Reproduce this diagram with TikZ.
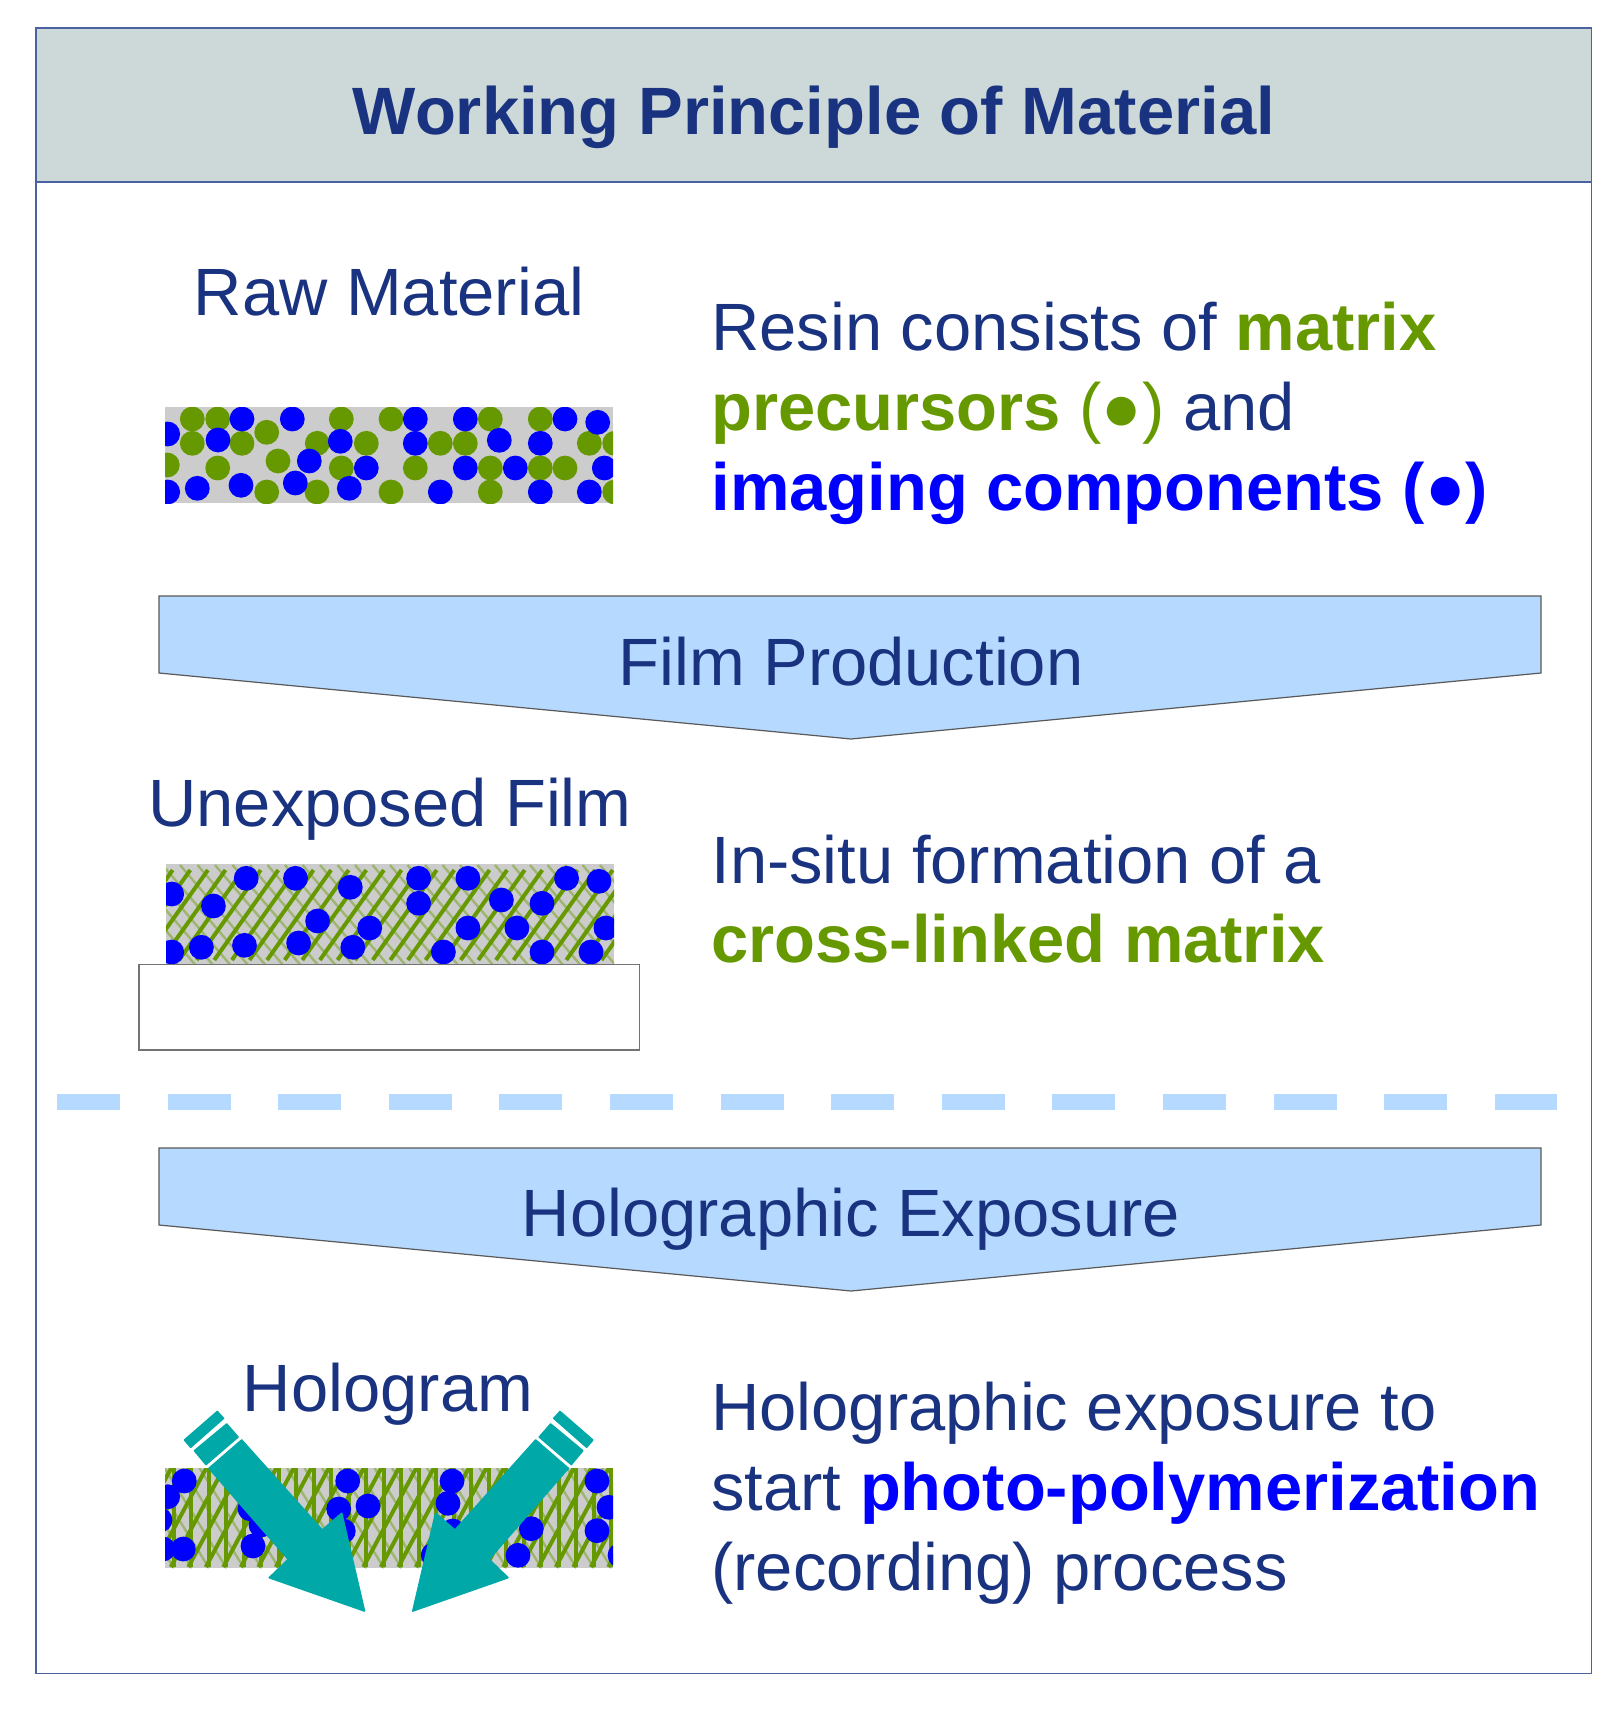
\documentclass[tikz,border=0pt]{standalone}
\usepackage{fontspec}
\setmainfont{Liberation Sans}
\definecolor{navytext}{HTML}{1A3380}
\definecolor{framecol}{HTML}{4A62A0}
\definecolor{headfill}{HTML}{CDD9D9}
\definecolor{arrowfill}{HTML}{B6DAFF}
\definecolor{oliveink}{HTML}{669900}
\definecolor{blueink}{HTML}{0000FF}
\definecolor{filmgray}{HTML}{CCCCCC}
\definecolor{beamteal}{HTML}{00A8A8}
\begin{document}
\begin{tikzpicture}[x=0.5pt, y=-0.5pt,
    bodytext/.style={font=\fontsize{33.45}{39.9}\selectfont, text=navytext, inner sep=0pt},
    paragraph/.style={bodytext, anchor=base west, align=left},
    label/.style={bodytext, anchor=base},
    flowarrow/.style={fill=arrowfill, draw=black!65, line width=0.6pt, line join=miter},
    greendot/.style={fill=oliveink},
    bluedot/.style={fill=blueink},
    thickhatch/.style={draw=oliveink, line width=2pt},
    thinhatch/.style={draw=oliveink!45!filmgray, line width=1.2pt},
    beam/.style={fill=beamteal, draw=beamteal, line width=0.8pt, line join=round}]

    \useasboundingbox (0,0) rectangle (1620,1712);

    % Frame and header
    \draw[framecol, line width=0.65pt, fill=white] (36,28) rectangle (1591.6,1673.6);
    \draw[framecol, line width=0.65pt, fill=headfill] (36,28) rectangle (1591.6,182);
    \node[bodytext, anchor=base, font=\fontsize{33.5}{40}\selectfont\bfseries] (title) at (814,134.5) {Working Principle of Material};

    % Raw material
    \node[label] (rawlabel) at (389,315) {Raw Material};
    \fill[filmgray] (165,407) rectangle (613,503);
    \begin{scope}
      \clip (165,407) rectangle (613,503);
      \foreach \x/\y in {192.3/419, 217.7/419, 266.7/432.3, 341.3/419, 391/419, 490.3/419, 540.3/419,
                         192.3/443.3, 242/443.3, 317.3/443.3, 366.3/443.3, 440.3/443.3, 465.3/443.3, 589.3/443.3, 614.7/443.3,
                         167.3/465, 217.7/468, 278/461, 341.3/468, 415.3/468, 490.3/468, 540.3/468, 565/468,
                         266.7/492, 317/492, 391/492, 490.3/492, 614.7/492}
        \fill[greendot] (\x,\y) circle (6.2pt);
      \foreach \x/\y in {242/419, 292.3/419, 415.3/419, 465.3/419, 565/419, 597.7/422.3,
                         167.7/434, 218/440, 340.3/441.3, 415.3/443.3, 499.3/440.3, 540.3/443.3,
                         309.3/461, 366.3/468, 465.3/468, 515.3/468, 604.3/468,
                         167.7/492, 197.3/488.3, 241/485.3, 295.3/483, 349.3/488.3, 440.3/492, 540.3/492, 589.3/492}
        \fill[bluedot] (\x,\y) circle (6.2pt);
    \end{scope}
    \node[paragraph] (rawtext) at (711,510) {Resin consists of \textcolor{oliveink}{\textbf{matrix}}\\
      \textcolor{oliveink}{\textbf{precursors} (●)} and\\
      \textcolor{blueink}{\textbf{imaging components (●)}}};

    % Film production
    \draw[flowarrow] (159,596) -- (1541,596) -- (1541,673) -- (851,739) -- (159,673) -- cycle;
    \node[label] (filmstep) at (851,685) {Film Production};

    % Unexposed film
    \node[label] (filmlabel) at (390,826) {Unexposed Film};
    \fill[filmgray] (166,863.5) rectangle (614,964.5);
    \begin{scope}
      \clip (166,863.5) rectangle (614,964.5);
      \foreach \i in {-8,...,30}
        \draw[thinhatch] ({180+\i*17.5},865) -- ++(88,103);
      \foreach \i in {-5,...,24}
        \draw[thickhatch] ({196.7+\i*17.6},960) -- ++(64,-90);
      \foreach \x/\y in {171.7/894, 213.4/906, 246.2/878.3, 295.5/878.3, 350.3/887.3, 418.6/878.3, 418.6/903.3,
                         467.9/878.3, 501.4/900, 542/903.3, 566.6/878.3, 599/881.3, 317.6/921, 369.7/928,
                         467.9/928, 516.9/928, 605.9/928, 171.7/952, 201.4/947.3, 244.5/945.3,
                         298.6/943, 352.8/947.3, 443.4/952, 542/952, 591/952}
        \fill[bluedot] (\x,\y) circle (6.2pt);
    \end{scope}
    \draw[black!55, line width=0.65pt, fill=white] (139,964.5) rectangle (639.5,1050);
    \node[paragraph] (filmtext) at (711,962.8) {In-situ formation of a\\
      \textcolor{oliveink}{\textbf{cross-linked matrix}}};

    % Separator
    \draw[arrowfill, line width=8pt, dash pattern=on 31.5pt off 23.8pt] (57,1102) -- (1557,1102);

    % Holographic exposure
    \draw[flowarrow] (159,1148) -- (1541,1148) -- (1541,1225) -- (851,1291) -- (159,1225) -- cycle;
    \node[label] (holostep) at (851,1236) {Holographic Exposure};

    % Hologram
    \node[label] (hololabel) at (388,1411) {Hologram};
    \fill[filmgray] (165,1468) rectangle (613,1568);
    \begin{scope}
      \clip (165,1468) rectangle (613,1568);
      \foreach \i in {-8,...,30}
        \draw[thinhatch] ({532+(\i-20)*17.5},1468) -- ++(62,100);
      \foreach \i in {-3,...,24}
        \draw[thickhatch] ({471+(\i-16)*17.5},1468) -- ++(0,99);
      \foreach \i in {-6,...,24}
        \draw[thickhatch] ({538.3+(\i-18)*17.5},1567) -- ++(53,-99);
      \foreach \x/\y in {184.3/1481, 167.7/1496.7, 160/1520, 163/1549, 183.3/1549, 250/1508.7, 261/1525, 253/1546,
                         347.7/1481, 338.7/1509, 368/1506, 343.3/1531, 452/1481, 448/1503.3, 452.7/1531, 433.3/1555,
                         531.3/1528.7, 518/1555.3, 597/1481, 609/1507.3, 597/1530.7, 620/1555.3}
        \fill[bluedot] (\x,\y) circle (6.2pt);
    \end{scope}

    % Exposure beams
    \foreach \s/\o in {1/0, -1/777.3} {
      \filldraw[beam] ({\o+\s*241.7},1440) -- ({\o+\s*322.3},1530) -- ({\o+\s*341.7},1513.3) -- ({\o+\s*364.5},1611)
        -- ({\o+\s*269.3},1577.7) -- ({\o+\s*288.3},1559.3) -- ({\o+\s*209},1468.3) -- cycle;
      \filldraw[beam] ({\o+\s*226.7},1424) -- ({\o+\s*238},1437) -- ({\o+\s*206},1464.5) -- ({\o+\s*194.5},1450.7) -- cycle;
      \filldraw[beam] ({\o+\s*217.3},1411.5) -- ({\o+\s*223.5},1418.3) -- ({\o+\s*190.7},1447.2) -- ({\o+\s*184.5},1440) -- cycle;
    }

    \node[paragraph] (holotext) at (711,1590.5) {Holographic exposure to\\
      start \textcolor{blueink}{\textbf{photo-polymerization}}\\
      (recording) process};
\end{tikzpicture}
\end{document}
